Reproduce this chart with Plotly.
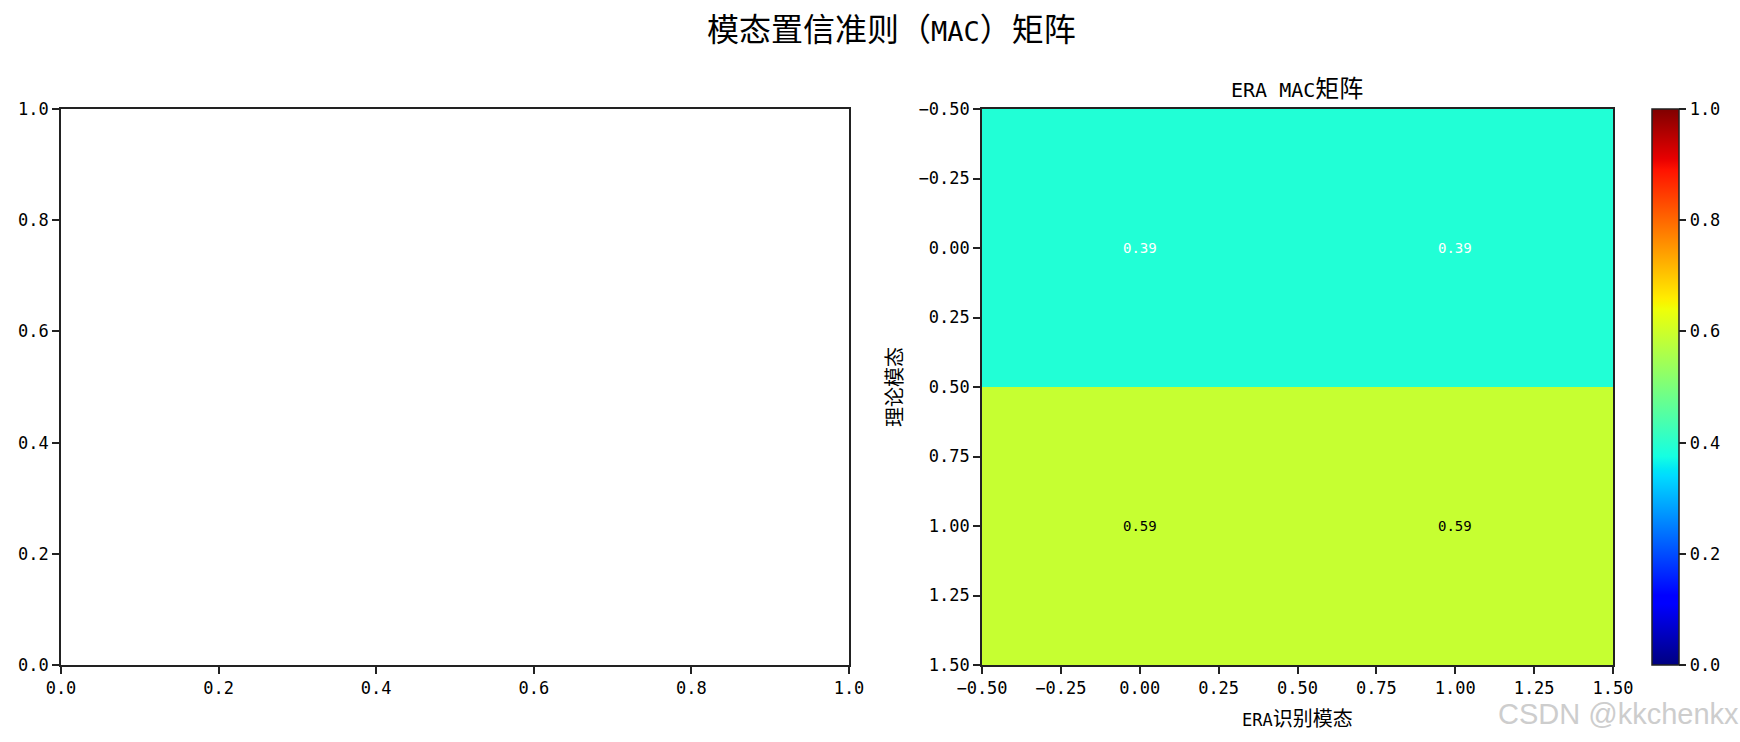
import numpy as np
import plotly.graph_objects as go

# ---- data ----
theory_modes = [0, 1]
era_modes = [0, 1]
mac_values = [[0.39, 0.39],
              [0.59, 0.59]]
mac_labels = [["0.39", "0.39"],
              ["0.59", "0.59"]]
heat_ticks = [-0.5, -0.25, 0.0, 0.25, 0.5, 0.75, 1.0, 1.25, 1.5]
heat_ticktext = ["\u22120.50", "\u22120.25", "0.00", "0.25", "0.50", "0.75", "1.00", "1.25", "1.50"]
empty_ticks = [0.0, 0.2, 0.4, 0.6, 0.8, 1.0]
empty_ticktext = ["0.0", "0.2", "0.4", "0.6", "0.8", "1.0"]
cbar_ticks = [0.0, 0.2, 0.4, 0.6, 0.8, 1.0]
cbar_ticktext = ["0.0", "0.2", "0.4", "0.6", "0.8", "1.0"]

W, H = 1740, 742

# matplotlib 'jet' colormap segments
r_seg = [(0, 0), (0.35, 0), (0.66, 1), (0.89, 1), (1, 0.5)]
g_seg = [(0, 0), (0.125, 0), (0.375, 1), (0.64, 1), (0.91, 0), (1, 0)]
b_seg = [(0, 0.5), (0.11, 1), (0.34, 1), (0.65, 0), (1, 0)]
stops = sorted(set([p for p, _ in r_seg + g_seg + b_seg]))
def seg(s, x):
    return np.interp(x, [p for p, _ in s], [v for _, v in s])
jet = []
for p in stops:
    r, g, b = seg(r_seg, p), seg(g_seg, p), seg(b_seg, p)
    jet.append([p, "rgb(%d,%d,%d)" % (round(r * 255), round(g * 255), round(b * 255))])

FONT = "DejaVu Sans Mono, Noto Sans CJK SC, sans-serif"
TICK = 17

def px_x(p):
    return p / W
def px_y(p):
    return 1 - p / H

def mixed(cjk_size, lat_size, parts):
    out = []
    for txt, is_lat in parts:
        size = lat_size if is_lat else cjk_size
        out.append('<span style="font-size:%dpx">%s</span>' % (size, txt))
    return "".join(out)

fig = go.Figure()

# invisible trace to hold the empty left axes
fig.add_trace(go.Scatter(x=[None], y=[None], xaxis="x", yaxis="y", showlegend=False, hoverinfo="skip"))

fig.add_trace(go.Heatmap(
    z=mac_values, x=era_modes, y=theory_modes,
    xaxis="x2", yaxis="y2",
    colorscale=jet, zmin=0, zmax=1,
    colorbar=dict(
        x=px_x(1652), xanchor="left", xpad=0, ypad=0,
        y=px_y(387), yanchor="middle",
        len=(665 - 109) / H, lenmode="fraction",
        thickness=27, outlinewidth=1.5, outlinecolor="#222",
        ticks="outside", ticklen=7, tickcolor="#222", tickwidth=1.5,
        tickvals=cbar_ticks, ticktext=cbar_ticktext,
        tickfont=dict(family=FONT, size=TICK, color="black"),
    ),
    hoverinfo="skip",
))

axis_common = dict(showline=True, mirror=True, linecolor="#222", linewidth=1.6,
                   ticks="outside", ticklen=7, tickcolor="#222", tickwidth=1.5,
                   showgrid=False, zeroline=False, automargin=False,
                   tickfont=dict(family=FONT, size=TICK, color="black"))

fig.update_layout(
    width=W, height=H,
    margin=dict(l=0, r=0, t=0, b=0, autoexpand=False),
    paper_bgcolor="white", plot_bgcolor="white",
    xaxis=dict(domain=[px_x(61), px_x(849)], range=[0, 1], anchor="y",
               tickvals=empty_ticks, ticktext=empty_ticktext, **axis_common),
    yaxis=dict(domain=[px_y(665), px_y(109)], range=[0, 1], anchor="x",
               tickvals=empty_ticks, ticktext=empty_ticktext, **axis_common),
    xaxis2=dict(domain=[px_x(982), px_x(1613)], range=[-0.5, 1.5], anchor="y2",
                tickvals=heat_ticks, ticktext=heat_ticktext, **axis_common),
    yaxis2=dict(domain=[px_y(665), px_y(109)], range=[1.5, -0.5], anchor="x2",
                tickvals=heat_ticks, ticktext=heat_ticktext, **axis_common),
    showlegend=False,
)

annotations = []
# cell values
for i, yv in enumerate(theory_modes):
    for j, xv in enumerate(era_modes):
        v = mac_values[i][j]
        annotations.append(dict(x=xv, y=yv, xref="x2", yref="y2", text=mac_labels[i][j],
                                showarrow=False,
                                font=dict(family=FONT, size=14, color="white" if v < 0.5 else "black")))
# titles
annotations.append(dict(x=px_x(892), y=px_y(30), xref="paper", yref="paper",
                        text=mixed(32, 27, [("模态置信准则（", False), ("MAC", True), ("）矩阵", False)]),
                        showarrow=False, xanchor="center", yanchor="middle",
                        font=dict(family=FONT, size=32, color="black")))
annotations.append(dict(x=px_x(1297), y=px_y(89), xref="paper", yref="paper",
                        text=mixed(24, 20, [("ERA MAC", True), ("矩阵", False)]),
                        showarrow=False, xanchor="center", yanchor="middle",
                        font=dict(family=FONT, size=24, color="black")))
annotations.append(dict(x=px_x(1297), y=px_y(719), xref="paper", yref="paper",
                        text=mixed(20, TICK, [("ERA", True), ("识别模态", False)]),
                        showarrow=False, xanchor="center", yanchor="middle",
                        font=dict(family=FONT, size=20, color="black")))
annotations.append(dict(x=px_x(895), y=px_y(387), xref="paper", yref="paper",
                        text="理论模态", showarrow=False, textangle=-90,
                        xanchor="center", yanchor="middle",
                        font=dict(family=FONT, size=20, color="black")))
# watermark
annotations.append(dict(x=1.0, y=px_y(714), xref="paper", yref="paper",
                        text="CSDN @kkchenkx", showarrow=False, borderpad=0,
                        xanchor="right", yanchor="middle",
                        font=dict(family="Liberation Sans, Arial, sans-serif", size=29, color="#cdcdcd")))
fig.update_layout(annotations=annotations)

fig.write_html("out.html",
               config={"displayModeBar": False},
               post_script="document.body.style.margin='0';document.body.style.overflow='hidden';")
